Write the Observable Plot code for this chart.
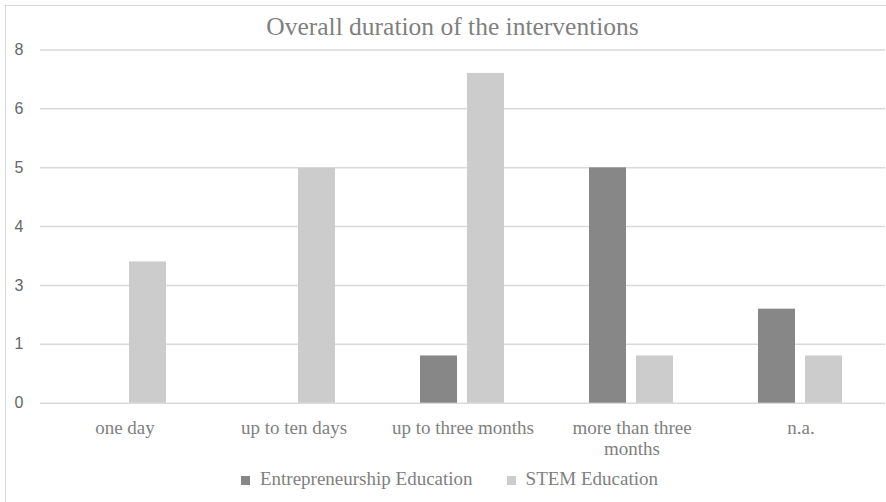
<!DOCTYPE html>
<html><head><meta charset="utf-8">
<script src="https://cdn.jsdelivr.net/npm/d3@7"></script>
<script src="https://cdn.jsdelivr.net/npm/@observablehq/plot@0.6"></script>
<style>
body{margin:0;background:#fff;}
#wrap{position:relative;width:886px;height:502px;overflow:hidden;background:#fff;}
#frame{position:absolute;left:5px;top:4.5px;width:1000px;height:800px;border-left:1.5px solid #d9d9d9;border-top:1.5px solid #d9d9d9;}
#chart{position:absolute;left:0;top:0;}
#title{position:absolute;left:0;width:905px;top:13.6px;text-align:center;font-family:"Liberation Serif","Times New Roman",serif;font-size:25.5px;line-height:1;color:#7f7f7f;white-space:nowrap;}
#legend{position:absolute;left:0;width:899px;top:469px;text-align:center;font-family:"Liberation Serif","Times New Roman",serif;font-size:19px;line-height:1;color:#7f7f7f;white-space:nowrap;}
#legend span.item{display:inline-block;margin:0 17px;}
#legend span.sw{display:inline-block;width:9px;height:9px;margin-right:10px;vertical-align:0px;}
</style></head><body>
<div id="wrap"><div id="frame"></div><div id="chart"></div><div id="title"></div><div id="legend"></div></div>
<script>
const titleText = "Overall duration of the interventions";
const categories = ["one day", "up to ten days", "up to three months", "more than three months", "n.a."];
const categoryLabels = ["one day", "up to ten days", "up to three months", "more than three\nmonths", "n.a."];
const series = ["Entrepreneurship Education", "STEM Education"];
const seriesColors = ["#878787", "#cccccc"];
const entrepreneurship = [0, 0, 1.07, 5.33, 2.13];
const stem = [3.2, 5.32, 7.47, 1.07, 1.07];
const yTicks = [0, 1.333, 2.667, 4, 5.333, 6.667, 8];
const yTickLabels = ["0", "1", "3", "4", "5", "6", "8"];

const table = [];
categories.forEach((c, i) => {
  table.push({category: c, series: series[0], value: entrepreneurship[i]});
  table.push({category: c, series: series[1], value: stem[i]});
});

const chart = Plot.plot({
  width: 886, height: 502,
  marginTop: 49.5, marginBottom: 99.3, marginLeft: 38, marginRight: 0,
  style: {background: "transparent", fontFamily: "'Times New Roman', 'Liberation Serif', serif"},
  fx: {domain: categories, padding: 0, label: null},
  x: {domain: series, paddingInner: 0.2083, paddingOuter: 0.869, axis: null},
  y: {domain: [0, 8], axis: null},
  color: {domain: series, range: seriesColors},
  marks: [
    Plot.ruleY(yTicks, {stroke: "#d9d9d9", strokeWidth: 1.5}),
    Plot.barY(table, {fx: "category", x: "series", y: "value", fill: "series"}),
    Plot.axisY(yTicks, {anchor: "left", tickSize: 0, tickPadding: 17, textAnchor: "end",
      tickFormat: d => yTickLabels[yTicks.indexOf(d)], fontSize: 16, fontFamily: "Liberation Sans, sans-serif", fill: "#666", label: null}),
    Plot.axisFx({anchor: "bottom", tickSize: 0, tickPadding: 16, lineHeight: 1.1,
      tickFormat: d => categoryLabels[categories.indexOf(d)], fontSize: 19, fontFamily: "'Times New Roman', 'Liberation Serif', serif", fill: "#7f7f7f", label: null})
  ]
});
document.getElementById("chart").appendChild(chart);
document.getElementById("title").textContent = titleText;
const lg = document.getElementById("legend");
series.forEach((s, i) => {
  const item = document.createElement("span");
  item.className = "item";
  const sw = document.createElement("span");
  sw.className = "sw";
  sw.style.background = seriesColors[i];
  item.appendChild(sw);
  item.appendChild(document.createTextNode(s));
  lg.appendChild(item);
});
</script>
</body></html>
